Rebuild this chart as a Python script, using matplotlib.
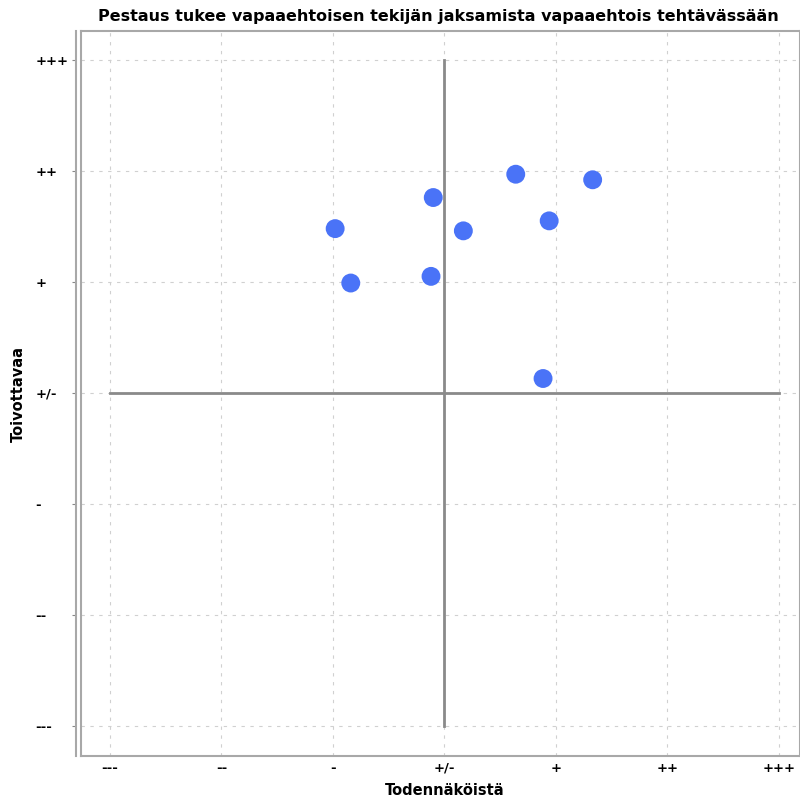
import matplotlib.pyplot as plt

# scale positions -3..3 with their labels
scale = [-3, -2, -1, 0, 1, 2, 3]
scale_labels = ["---", "--", "-", "+/-", "+", "++", "+++"]

# Todennäköistä (x) and Toivottavaa (y) per answer
todennakoista = [-0.98, -0.84, -0.10, -0.12, 0.17, 0.64, 0.94, 1.33, 0.885]
toivottavaa = [1.48, 0.99, 1.76, 1.05, 1.46, 1.97, 1.55, 1.92, 0.13]

title = "Pestaus tukee vapaaehtoisen tekijän jaksamista vapaaehtois tehtävässään"

fig = plt.figure(figsize=(8, 7.98), dpi=100)
ax = fig.add_axes([81 / 800, 42 / 798, 719 / 800, 725 / 798])

xlo, xhi = -3.26, 3.19
ylo, yhi = -3.27, 3.26
ax.set_xlim(xlo, xhi)
ax.set_ylim(ylo, yhi)

# grid
for v in scale:
    ax.axvline(v, color="#d0d0d0", lw=0.8, ls=(0, (3, 5)), zorder=0)
    ax.axhline(v, color="#d0d0d0", lw=0.8, ls=(0, (3, 5)), zorder=0)

# crosshair
ax.plot([0, 0], [scale[0], scale[-1]], color="#8a8a8a", lw=2, zorder=1)
ax.plot([scale[0], scale[-1]], [0, 0], color="#8a8a8a", lw=2, zorder=1)

ax.scatter(todennakoista, toivottavaa, s=185, color="#4a73f7",
           edgecolors="none", zorder=3)

# frame
for side in ["top", "right", "bottom"]:
    ax.spines[side].set_color("#a8a8a8")
    ax.spines[side].set_linewidth(1.5)
ax.spines["left"].set_position(("outward", 3.6))
ax.spines["left"].set_color("#a8a8a8")
ax.spines["left"].set_linewidth(1.5)
ax.axvline(xlo, color="#a8a8a8", lw=1.5, clip_on=False)

ax.set_xticks(scale, scale_labels)
ax.set_yticks(scale, scale_labels)
ax.tick_params(axis="x", length=0, pad=4, labelsize=9.5)
ax.tick_params(axis="y", length=3, width=0.8, color="#888888", pad=26, labelsize=9.5)
for lab in ax.get_yticklabels():
    lab.set_horizontalalignment("left")
for lab in ax.get_xticklabels() + ax.get_yticklabels():
    lab.set_fontweight("bold")

ax.set_xlabel("Todennäköistä", fontsize=10.5, fontweight="bold")
ax.xaxis.set_label_coords(0.506, -0.037)
ax.set_ylabel("Toivottavaa", fontsize=10.5, fontweight="bold")
ax.yaxis.set_label_coords(-0.077, 0.5)

fig.text(438 / 800, 1 - 16 / 798, title, ha="center", va="center",
         fontsize=11.5, fontweight="bold")

fig.savefig("out.png", dpi=100)
